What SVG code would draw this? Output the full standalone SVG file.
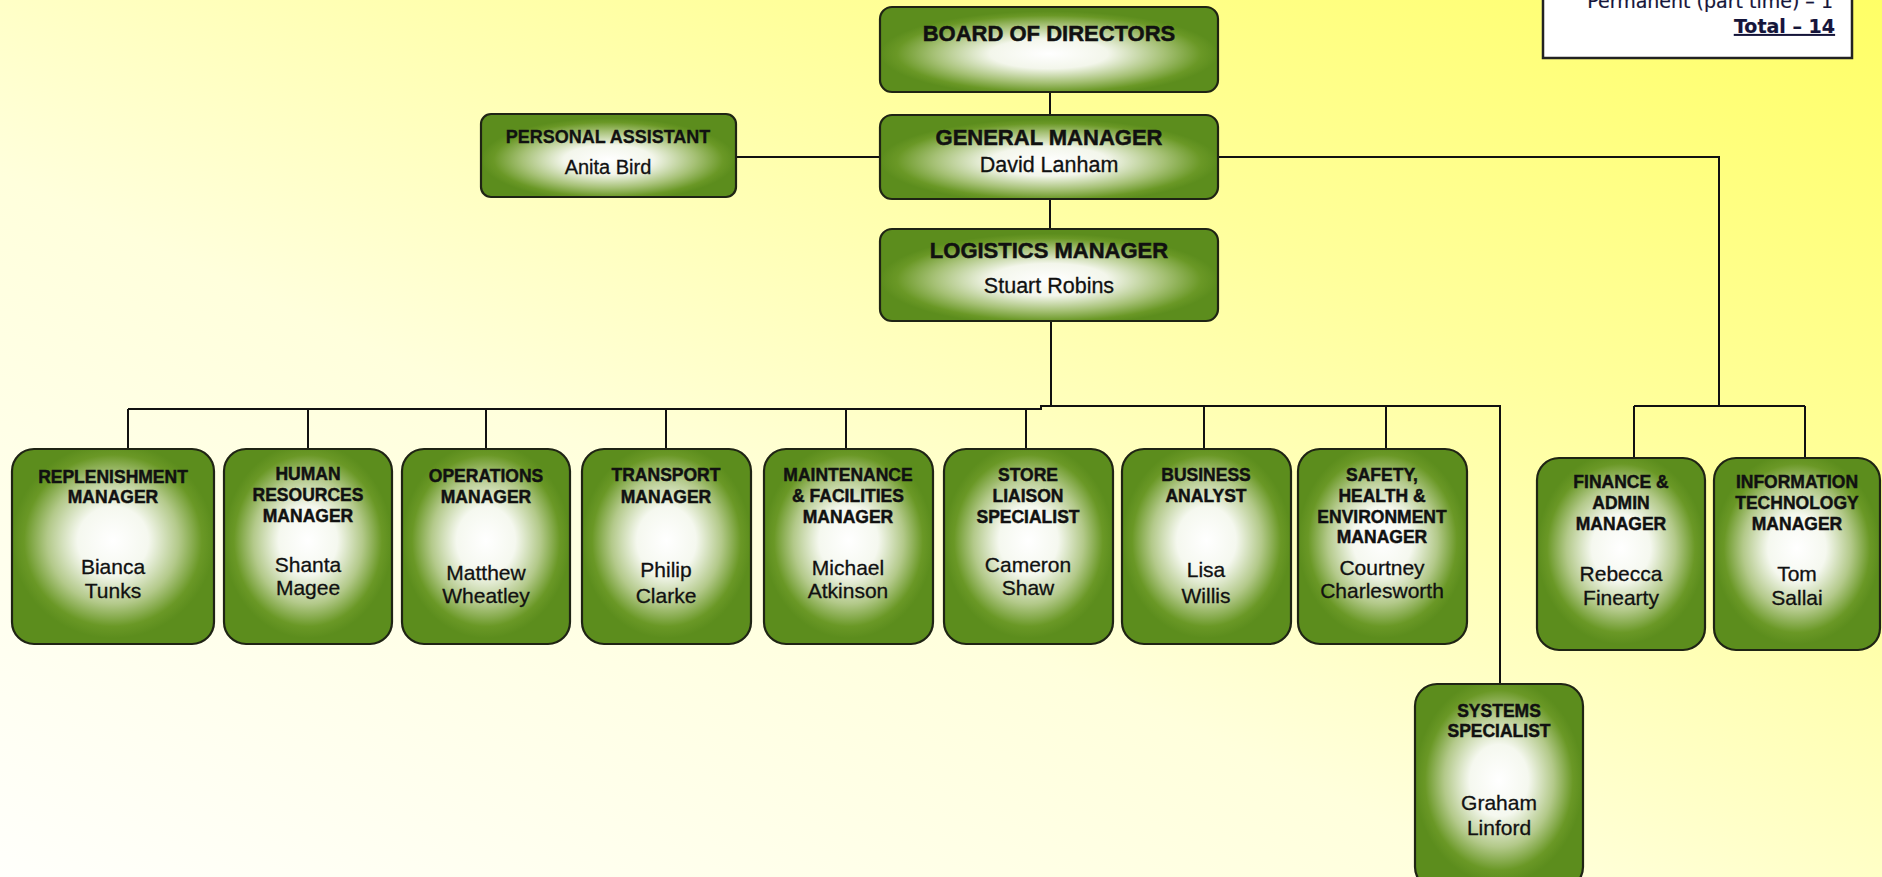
<svg xmlns="http://www.w3.org/2000/svg" width="1882" height="877" viewBox="0 0 1882 877">
<defs>
<linearGradient id="bg" x1="0" y1="1" x2="1" y2="0">
<stop offset="0" stop-color="#fffffb"/>
<stop offset="0.4" stop-color="#ffffdc"/>
<stop offset="0.7" stop-color="#ffff9c"/>
<stop offset="1" stop-color="#ffff66"/>
</linearGradient>
<radialGradient id="gb" cx="0.5" cy="0.47" r="0.5">
<stop offset="0" stop-color="#ffffff"/>
<stop offset="0.35" stop-color="#f5f8ef"/>
<stop offset="0.65" stop-color="#b3c98a"/>
<stop offset="0.88" stop-color="#6a9826"/>
<stop offset="1" stop-color="#5c8d1d"/>
</radialGradient>
<radialGradient id="gt" cx="0.5" cy="0.55" r="0.5">
<stop offset="0" stop-color="#ffffff"/>
<stop offset="0.35" stop-color="#f3f6eb"/>
<stop offset="0.68" stop-color="#a6c176"/>
<stop offset="0.9" stop-color="#6a9826"/>
<stop offset="1" stop-color="#5c8d1d"/>
</radialGradient>
</defs>
<style>
.box{fill:url(#gb);stroke:#1f2414;stroke-width:2.2}
.tbox{fill:url(#gt);stroke:#1f2414;stroke-width:2.2}
.conn{fill:none;stroke:#111;stroke-width:2}
text{font-family:"Liberation Sans",Arial,sans-serif;fill:#111;text-anchor:middle;stroke:#111;stroke-width:0.3}
.t1{font-size:22px;font-weight:bold;stroke-width:0.5}
.n1{font-size:21.5px}
.t2{font-size:17.5px;font-weight:bold;stroke-width:0.45}
.n2{font-size:21px}
.lg{font-family:"DejaVu Sans",Verdana,sans-serif;fill:#15153a;stroke:#15153a;stroke-width:0.2;text-anchor:end}
</style>
<rect x="0" y="0" width="1882" height="877" fill="url(#bg)"/>

<g id="connectors">
<path class="conn" d="M1050 92V115M1050 199V229M736 157H880M1218 157H1719V406M1634 406H1805M1634 406V458M1805 406V458"/>
<path class="conn" d="M1051 321V406M128 409H1041V406H1500V684"/>
<path class="conn" d="M128 409V449M308 409V449M486 409V449M666 409V449M846 409V449M1026 409V449M1204 406V449M1386 406V449"/>
</g>

<g id="legend">
<rect x="1543" y="-10" width="309" height="68" fill="#fff" stroke="#222" stroke-width="2.5"/>
<text class="lg" x="1833" y="8" font-size="19">Permanent (part time) – 1</text>
<text class="lg" x="1835" y="33" font-size="19" font-weight="bold" text-decoration="underline">Total – 14</text>
</g>

<g id="board"><rect class="tbox" x="880" y="7" width="338" height="85" rx="12"/>
<text class="t1" x="1049" y="41">BOARD OF DIRECTORS</text></g>

<g id="gm"><rect class="tbox" x="880" y="115" width="338" height="84" rx="12"/>
<text class="t1" x="1049" y="145">GENERAL MANAGER</text>
<text class="n1" x="1049" y="172">David Lanham</text></g>

<g id="lm"><rect class="tbox" x="880" y="229" width="338" height="92" rx="12"/>
<text class="t1" x="1049" y="258">LOGISTICS MANAGER</text>
<text class="n1" x="1049" y="293">Stuart Robins</text></g>

<g id="pa"><rect class="tbox" x="481" y="114" width="255" height="83" rx="10"/>
<text x="608" y="143" font-size="18" font-weight="bold" stroke-width="0.45">PERSONAL ASSISTANT</text>
<text x="608" y="174" font-size="20">Anita Bird</text></g>

<g id="replenishment"><rect class="box" x="12" y="449" width="202" height="195" rx="22"/>
<text class="t2" x="113" y="483">REPLENISHMENT</text>
<text class="t2" x="113" y="503">MANAGER</text>
<text class="n2" x="113" y="574">Bianca</text>
<text class="n2" x="113" y="598">Tunks</text></g>

<g id="hr"><rect class="box" x="224" y="449" width="168" height="195" rx="22"/>
<text class="t2" x="308" y="480">HUMAN</text>
<text class="t2" x="308" y="501">RESOURCES</text>
<text class="t2" x="308" y="522">MANAGER</text>
<text class="n2" x="308" y="572">Shanta</text>
<text class="n2" x="308" y="595">Magee</text></g>

<g id="operations"><rect class="box" x="402" y="449" width="168" height="195" rx="22"/>
<text class="t2" x="486" y="482">OPERATIONS</text>
<text class="t2" x="486" y="503">MANAGER</text>
<text class="n2" x="486" y="580">Matthew</text>
<text class="n2" x="486" y="603">Wheatley</text></g>

<g id="transport"><rect class="box" x="582" y="449" width="169" height="195" rx="22"/>
<text class="t2" x="666" y="481">TRANSPORT</text>
<text class="t2" x="666" y="503">MANAGER</text>
<text class="n2" x="666" y="577">Philip</text>
<text class="n2" x="666" y="603">Clarke</text></g>

<g id="maintenance"><rect class="box" x="764" y="449" width="169" height="195" rx="22"/>
<text class="t2" x="848" y="481">MAINTENANCE</text>
<text class="t2" x="848" y="502">&amp; FACILITIES</text>
<text class="t2" x="848" y="523">MANAGER</text>
<text class="n2" x="848" y="575">Michael</text>
<text class="n2" x="848" y="598">Atkinson</text></g>

<g id="store"><rect class="box" x="944" y="449" width="169" height="195" rx="22"/>
<text class="t2" x="1028" y="481">STORE</text>
<text class="t2" x="1028" y="502">LIAISON</text>
<text class="t2" x="1028" y="523">SPECIALIST</text>
<text class="n2" x="1028" y="572">Cameron</text>
<text class="n2" x="1028" y="595">Shaw</text></g>

<g id="business"><rect class="box" x="1122" y="449" width="169" height="195" rx="22"/>
<text class="t2" x="1206" y="481">BUSINESS</text>
<text class="t2" x="1206" y="502">ANALYST</text>
<text class="n2" x="1206" y="577">Lisa</text>
<text class="n2" x="1206" y="603">Willis</text></g>

<g id="safety"><rect class="box" x="1298" y="449" width="169" height="195" rx="22"/>
<text class="t2" x="1382" y="481">SAFETY,</text>
<text class="t2" x="1382" y="502">HEALTH &amp;</text>
<text class="t2" x="1382" y="523">ENVIRONMENT</text>
<text class="t2" x="1382" y="543">MANAGER</text>
<text class="n2" x="1382" y="575">Courtney</text>
<text class="n2" x="1382" y="598">Charlesworth</text></g>

<g id="finance"><rect class="box" x="1537" y="458" width="168" height="192" rx="22"/>
<text class="t2" x="1621" y="488">FINANCE &amp;</text>
<text class="t2" x="1621" y="509">ADMIN</text>
<text class="t2" x="1621" y="530">MANAGER</text>
<text class="n2" x="1621" y="581">Rebecca</text>
<text class="n2" x="1621" y="605">Finearty</text></g>

<g id="it"><rect class="box" x="1714" y="458" width="166" height="192" rx="22"/>
<text class="t2" x="1797" y="488">INFORMATION</text>
<text class="t2" x="1797" y="509">TECHNOLOGY</text>
<text class="t2" x="1797" y="530">MANAGER</text>
<text class="n2" x="1797" y="581">Tom</text>
<text class="n2" x="1797" y="605">Sallai</text></g>

<g id="systems"><rect class="box" x="1415" y="684" width="168" height="205" rx="22"/>
<text class="t2" x="1499" y="717">SYSTEMS</text>
<text class="t2" x="1499" y="737">SPECIALIST</text>
<text class="n2" x="1499" y="810">Graham</text>
<text class="n2" x="1499" y="835">Linford</text></g>
</svg>
